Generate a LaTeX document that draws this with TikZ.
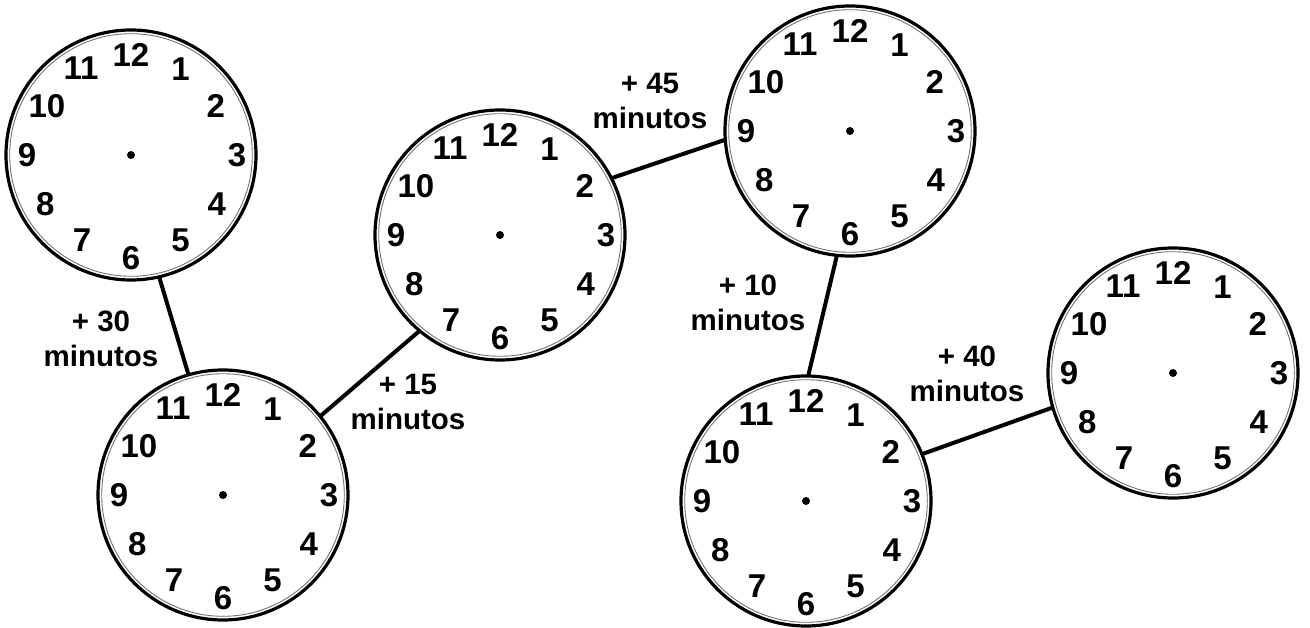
\documentclass[tikz,border=0pt]{standalone}
\usepackage{fontspec}
\setmainfont{Liberation Sans}
\tikzset{
  clock/.style={circle, draw=black, line width=3.2pt, minimum size=250pt, inner sep=0pt, outer sep=0pt},
  ring/.style={draw=black!55, line width=0.9pt},
  num/.style={inner sep=0pt, font=\fontsize{33}{33}\selectfont\bfseries},
  link/.style={draw=black, line width=4pt},
  lab/.style={align=center, inner sep=0pt, font=\fontsize{29.5}{35}\selectfont\bfseries}
}
\newcommand\clockface[3]{%
  \node[clock] (#1) at (#2,#3) {};
  \draw[ring] (#2,#3) circle[radius=121.3];
  \fill (#2,#3) circle[radius=4];
  \foreach \k/\r in {1/99,2/98,3/106,4/99,5/99,6/103,7/98,8/99,9/104,10/97,11/100,12/100}{
    \node[num] (#1n\k) at ({#2+\r*cos(30*\k-90)},{#3+\r*sin(30*\k-90)}) {\k};
  }
}
\begin{document}
\begin{tikzpicture}[x=1pt,y=-1pt]
\useasboundingbox (0,0) rectangle (1310,628);
\fill[white] (0,0) rectangle (1310,628);
\clockface{c1}{131}{155}
\clockface{c2}{223}{495}
\clockface{c3}{500}{235}
\clockface{c4}{850}{131}
\clockface{c5}{806}{501}
\clockface{c6}{1173}{373}
\draw[link] (c1.-77.8) -- (c2.106.4);
\draw[link] (c2.39.6) -- (c3.-130.3);
\draw[link] (c3.27.2) -- (c4.184.6);
\draw[link] (c4.-96.7) -- (c5.89);
\draw[link] (c5.22.5) -- (c6.196.7);
\node[lab] (l1) at (101,339) {+ 30\\minutos};
\node[lab] (l2) at (408,402) {+ 15\\minutos};
\node[lab] (l3) at (650,101) {+ 45\\minutos};
\node[lab] (l4) at (748,303) {+ 10\\minutos};
\node[lab] (l5) at (967,374) {+ 40\\minutos};
\end{tikzpicture}
\end{document}
